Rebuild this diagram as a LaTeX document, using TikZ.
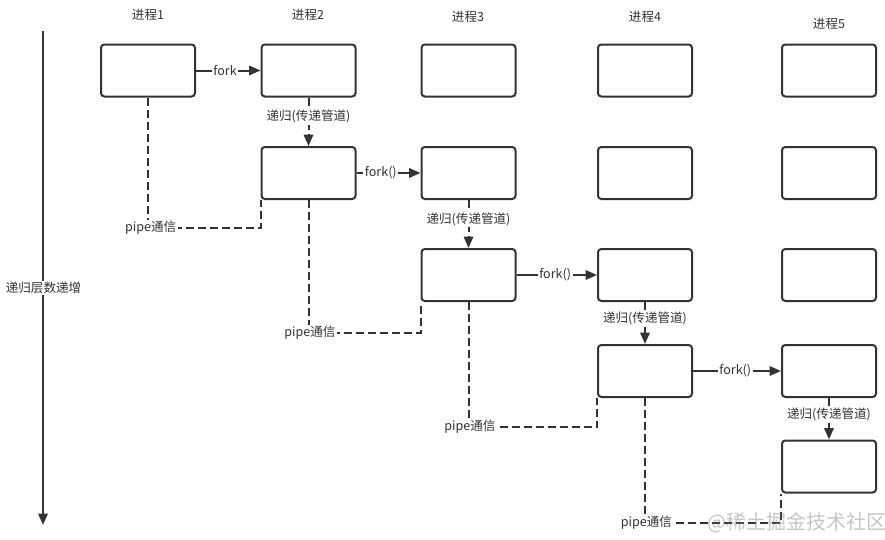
\documentclass[tikz,border=0pt]{standalone}
\usepackage{fontspec}
\setmainfont{Noto Sans CJK SC}
\usetikzlibrary{arrows.meta}
\definecolor{ink}{HTML}{333333}
\begin{document}
\begin{tikzpicture}[x=0.75pt,y=-0.75pt,
  proc/.style={draw=ink,line width=1.5pt,rounded corners=2.5pt,minimum width=70.5pt,minimum height=39pt,inner sep=0pt},
  hdr/.style={text=ink,font=\fontsize{9.4pt}{11pt}\selectfont,inner sep=0pt},
  lbl/.style={fill=white,text=ink,font=\fontsize{9.4pt}{11pt}\selectfont,inner sep=1.2pt},
  solidarrow/.style={draw=ink,line width=1.5pt,-{Triangle[length=8.5pt,width=7pt]}},
  dasharrow/.style={draw=ink,line width=1.5pt,dash pattern=on 6pt off 3pt,-{Triangle[length=8.5pt,width=7pt]}},
  pipeline/.style={draw=ink,line width=1.5pt,dash pattern=on 6pt off 3pt},
]
\useasboundingbox (0,0) rectangle (885,539);

% axis
\coordinate (ax0) at (43,31);
\coordinate (ax1) at (43,525);
\draw[solidarrow] (ax0) -- (ax1);
\node[lbl,inner sep=0.5pt] (axl) at (43.5,288) {递归层数递增};

% headers
\node[hdr] (h1) at (148,15) {进程1};
\node[hdr] (h2) at (308,15) {进程2};
\node[hdr] (h3) at (468,17) {进程3};
\node[hdr] (h4) at (645,17) {进程4};
\node[hdr] (h5) at (829,24) {进程5};

% boxes
\node[proc] (a1) at (148,70.5) {};
\node[proc] (b1) at (308.5,70.5) {};
\node[proc] (c1) at (468.5,70.5) {};
\node[proc] (d1) at (645,70.5) {};
\node[proc] (e1) at (829,70.5) {};

\node[proc] (b2) at (308.5,173) {};
\node[proc] (c2) at (468.5,173) {};
\node[proc] (d2) at (645,173) {};
\node[proc] (e2) at (829,173) {};

\node[proc] (c3) at (468.5,275) {};
\node[proc] (d3) at (645,275) {};
\node[proc] (e3) at (829,275) {};

\node[proc] (d4) at (645,371) {};
\node[proc] (e4) at (829,371) {};

\node[proc] (e5) at (829,466.5) {};

% fork arrows
\draw[solidarrow] (a1) -- node[lbl,pos=0.45] {fork} (b1);
\draw[solidarrow] (b2) -- node[lbl,pos=0.38] {fork()} (c2);
\draw[solidarrow] (c3) -- node[lbl,pos=0.48] {fork()} (d3);
\draw[solidarrow] (d4) -- node[lbl,pos=0.48] {fork()} (e4);

% recursive arrows
\draw[dasharrow] (b1) -- node[lbl,pos=0.4] {递归(传递管道)} (b2);
\draw[dasharrow] (c2) -- node[lbl,pos=0.4] {递归(传递管道)} (c3);
\draw[dasharrow] (d3) -- node[lbl,pos=0.4] {递归(传递管道)} (d4);
\draw[dasharrow] (e4) -- node[lbl,pos=0.4] {递归(传递管道)} (e5);

% pipe lines
\coordinate (k1) at (148,228);
\coordinate (k2) at (308.5,333);
\coordinate (k3) at (468.5,427);
\coordinate (k4) at (645,523);
\draw[pipeline] (a1.south) -- (k1) -| (b2.south west);
\draw[pipeline] (b2.south) -- (k2) -| (c3.south west);
\draw[pipeline] (c3.south) -- (k3) -| (d4.south west);
\draw[pipeline] (d4.south) -- (k4) -| (e5.south west);
\node[lbl] (p1) at ([xshift=2pt]k1) {pipe通信};
\node[lbl] (p2) at ([xshift=1pt]k2) {pipe通信};
\node[lbl] (p3) at ([xshift=1pt]k3) {pipe通信};
\node[lbl] (p4) at ([xshift=1pt]k4) {pipe通信};

% watermark
\node[text=gray,opacity=0.45,font=\fontsize{15pt}{15pt}\selectfont,inner sep=0pt] (wm) at (797,523) {@稀土掘金技术社区};
\end{tikzpicture}
\end{document}
